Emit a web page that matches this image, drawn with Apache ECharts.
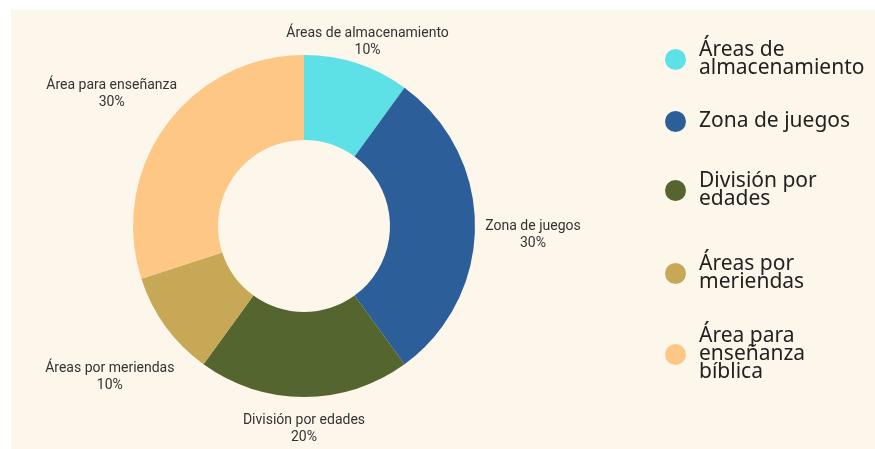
<!DOCTYPE html>
<html>
<head>
<meta charset="utf-8">
<style>
  html, body { margin: 0; padding: 0; background: #ffffff; }
  #chart { width: 875px; height: 449px; }
</style>
<script src="https://cdn.jsdelivr.net/npm/echarts@6/dist/echarts.min.js"></script>
</head>
<body>
<div id="chart"></div>
<script>
// ---- data ----
const categories = ['Áreas de almacenamiento', 'Zona de juegos', 'División por edades', 'Áreas por meriendas', 'Área para enseñanza bíblica'];
const values = [10, 30, 20, 10, 30];
const labelNames = ['Áreas de almacenamiento', 'Zona de juegos', 'División por edades', 'Áreas por meriendas', 'Área para enseñanza'];
const legendNames = ['Áreas de\nalmacenamiento', 'Zona de juegos', 'División por\nedades', 'Áreas por\nmeriendas', 'Área para\nenseñanza\nbíblica'];

// ---- layout / style ----
const colors = ['#5DE1E6', '#2C5E99', '#556530', '#C7A856', '#FEC785'];
const cx = 304, cy = 226;
const labelDist = [196, 229, 201, 245, 234];
const labelShift = [[3, 2], [0, 9], [0, 2], [4, 7], [-3, 6]];
const legendTops = [40, 111, 171, 254, 326];

const total = values.reduce((a, b) => a + b, 0);
const midAngles = [];
let acc = 0;
values.forEach(v => { midAngles.push((acc + v / 2) / total * 2 * Math.PI); acc += v; });

const chart = echarts.init(document.getElementById('chart'));

const legends = categories.map((c, i) => ({
  data: [c],
  left: 665,
  top: legendTops[i],
  padding: 0,
  orient: 'vertical',
  icon: 'circle',
  itemWidth: 21,
  itemHeight: 21,
  formatter: name => legendNames[categories.indexOf(name)],
  textStyle: {
    fontFamily: 'Noto Sans',
    fontSize: 21,
    lineHeight: 18,
    color: '#222222',
    padding: [0, 0, 0, 8]
  }
}));

chart.setOption({
  backgroundColor: 'transparent',
  animation: false,
  color: colors,
  graphic: [{
    type: 'rect',
    z: -10,
    silent: true,
    shape: { x: 11, y: 10, width: 864, height: 439 },
    style: { fill: '#FDF6EA' }
  }],
  legend: legends,
  series: [{
    type: 'pie',
    center: [cx, cy],
    radius: [86, 171],
    startAngle: 90,
    clockwise: true,
    avoidLabelOverlap: false,
    data: categories.map((c, i) => ({ name: c, value: values[i] })),
    label: {
      show: true,
      position: 'outside',
      formatter: p => labelNames[p.dataIndex] + '\n' + p.percent + '%',
      fontFamily: 'Roboto',
      fontSize: 14,
      lineHeight: 17,
      color: '#333333',
      align: 'center'
    },
    labelLine: { show: false },
    labelLayout: params => {
      const i = params.dataIndex;
      const a = midAngles[i];
      return {
        x: cx + labelDist[i] * Math.sin(a) + labelShift[i][0],
        y: cy - labelDist[i] * Math.cos(a) + labelShift[i][1],
        align: 'center',
        verticalAlign: 'middle'
      };
    },
    itemStyle: { borderWidth: 0 },
    emphasis: { scale: false }
  }]
});
</script>
</body>
</html>
